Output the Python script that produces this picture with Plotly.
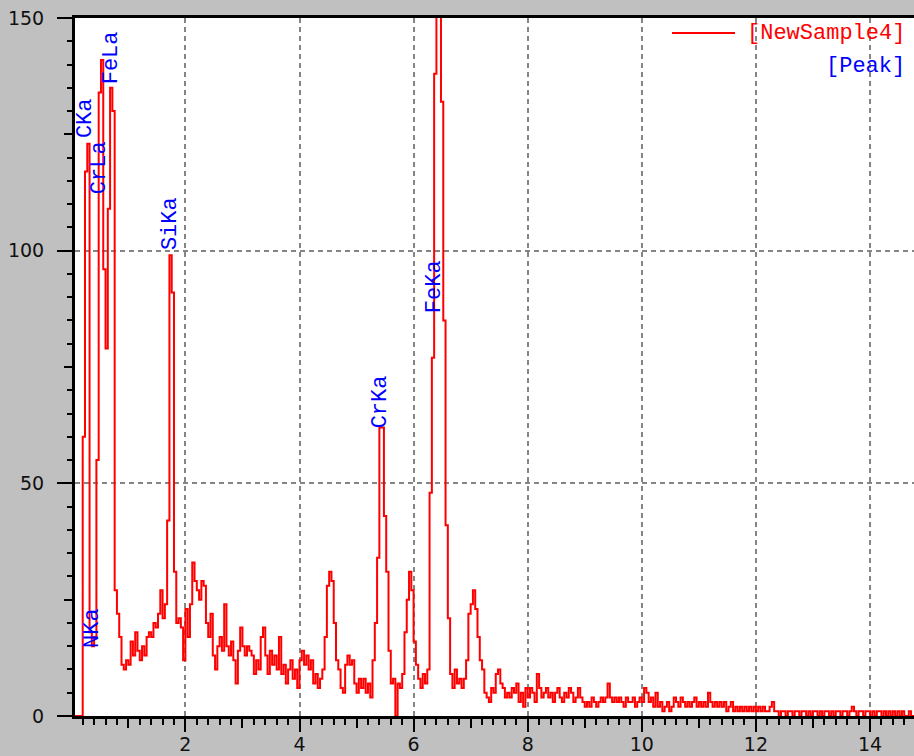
import plotly.graph_objects as go

# ---------------- data ----------------
channel_width_keV = 0.04          # EDS channel width (calibration)
counts = [
    0, 0, 0, 0, 0, 60, 117, 123, 18, 15,            # 0.00 - 0.36
    17, 55, 134, 141, 96, 79, 109, 135, 130, 27,    # 0.40 - 0.76
    22, 17, 11, 10, 12, 11, 16, 13, 18, 14,         # 0.80 - 1.16
    12, 15, 13, 17, 18, 17, 20, 19, 22, 27,         # 1.20 - 1.56
    21, 24, 42, 99, 91, 31, 20, 21, 19, 12,         # 1.60 - 1.96
    23, 17, 24, 33, 29, 27, 25, 29, 28, 20,         # 2.00 - 2.36
    17, 22, 13, 10, 15, 17, 14, 24, 15, 13,         # 2.40 - 2.76
    16, 12, 7, 14, 19, 15, 13, 15, 14, 13,          # 2.80 - 3.16
    9, 12, 10, 17, 19, 13, 9, 14, 11, 13,           # 3.20 - 3.56
    10, 17, 9, 11, 7, 10, 12, 8, 10, 6,             # 3.60 - 3.96
    12, 14, 11, 13, 10, 12, 7, 9, 6, 8,             # 4.00 - 4.36
    10, 17, 28, 31, 29, 20, 12, 10, 6, 5,           # 4.40 - 4.76
    11, 13, 11, 12, 7, 5, 8, 6, 8, 5,               # 4.80 - 5.16
    7, 4, 12, 20, 34, 62, 62, 43, 31, 14,           # 5.20 - 5.56
    7, 8, 0, 7, 6, 9, 18, 25, 31, 27,               # 5.60 - 5.96
    16, 11, 8, 6, 9, 7, 10, 48, 77, 138,            # 6.00 - 6.36
    155, 155, 132, 85, 41, 21, 9, 6, 10, 7,         # 6.40 - 6.76
    8, 6, 8, 12, 22, 24, 27, 23, 17, 12,            # 6.80 - 7.16
    10, 5, 4, 3, 6, 5, 9, 10, 7, 6,                 # 7.20 - 7.56
    4, 5, 4, 6, 5, 7, 3, 5, 2, 6,                   # 7.60 - 7.96
    4, 6, 5, 3, 9, 6, 4, 5, 6, 4,                   # 8.00 - 8.36
    5, 3, 5, 6, 4, 3, 5, 4, 6, 5,                   # 8.40 - 8.76
    3, 4, 6, 4, 3, 2, 3, 2, 4, 3,                   # 8.80 - 9.16
    2, 3, 4, 3, 4, 7, 4, 3, 4, 3,                   # 9.20 - 9.56
    4, 3, 2, 4, 3, 3, 4, 2, 3, 4,                   # 9.60 - 9.96
    3, 6, 5, 3, 4, 2, 5, 2, 3, 1,                   # 10.00 - 10.36
    2, 3, 1, 2, 4, 3, 2, 4, 3, 2,                   # 10.40 - 10.76
    3, 2, 3, 4, 2, 3, 2, 3, 2, 5,                   # 10.80 - 11.16
    3, 2, 3, 2, 3, 2, 3, 1, 2, 3,                   # 11.20 - 11.56
    1, 2, 1, 2, 1, 2, 1, 2, 1, 2,                   # 11.60 - 11.96
    1, 2, 1, 2, 1, 1, 2, 3, 1, 1,                   # 12.00 - 12.36
    0, 1, 1, 0, 1, 1, 0, 1, 1, 0,                   # 12.40 - 12.76
    1, 1, 0, 1, 0, 1, 1, 0, 1, 0,                   # 12.80 - 13.16
    1, 1, 0, 1, 0, 1, 1, 0, 1, 1,                   # 13.20 - 13.56
    0, 1, 2, 1, 0, 1, 1, 0, 1, 1,                   # 13.60 - 13.96
    0, 1, 0, 1, 1, 0, 1, 0, 1, 0,                   # 14.00 - 14.36
    1, 0, 1, 0, 1, 0, 0, 1, 0, 0, 0,                # 14.40 - 14.80
]
energy_keV = [round(i * channel_width_keV, 4) for i in range(len(counts))]

peak_labels = ["NKa", "CKa", "CrLa", "FeLa", "SiKa", "CrKa", "FeKa"]
peak_keV = [0.38, 0.26, 0.50, 0.71, 1.73, 5.42, 6.38]
peak_label_counts = [14.4, 124, 112, 135.6, 99.8, 61.6, 86.3]

x_major_ticks = [2, 4, 6, 8, 10, 12, 14]
x_mid_ticks = [1, 3, 5, 7, 9, 11, 13]
y_major_ticks = [0, 50, 100, 150]
y_mid_ticks = [25, 75, 125]

series_name = "[NewSample4]"
peak_legend = "[Peak]"

# ---------------- figure ----------------
L, R, T, B = 75, 0, 18, 40
W, H = 914, 756
px_per_keV = 57.05
x_zero_px = 71.3
x_range = [(L - x_zero_px) / px_per_keV, (W - R - x_zero_px) / px_per_keV]
y_range = [0, 150]

mono = "Liberation Mono"
red = "#ff0000"
blue = "#0000ff"

fig = go.Figure()
fig.add_trace(go.Scatter(
    x=energy_keV, y=counts, mode="lines", line=dict(color=red, width=2, shape="hv"),
    name=series_name, showlegend=False, hoverinfo="x+y"))
# helper traces so the overlaid tick axes are rendered
for xa, ya in (("x2", "y"), ("x3", "y"), ("x", "y2")):
    fig.add_trace(go.Scatter(x=energy_keV[:1], y=counts[:1], xaxis=xa, yaxis=ya,
                             mode="lines", opacity=0, showlegend=False,
                             hoverinfo="skip"))

tickfont = dict(family="DejaVu Sans", size=19, color="#111111")
grid = dict(showgrid=True, gridcolor="#858585", griddash="5px,4px", gridwidth=1.5)
tick_only = dict(overlaying="x", anchor="y", side="bottom", ticks="outside",
                 tickwidth=2, tickcolor="black", showticklabels=False,
                 showgrid=False, showline=False, zeroline=False, range=x_range)

fig.update_layout(
    width=W, height=H,
    margin=dict(l=L, r=R, t=T, b=B, pad=0),
    paper_bgcolor="#c0c0c0", plot_bgcolor="#ffffff",
    showlegend=False,
    xaxis=dict(range=x_range, tickvals=x_major_ticks, ticks="outside", ticklen=9,
               tickwidth=2, tickcolor="black", showline=True, linewidth=3,
               linecolor="black", mirror=True, zeroline=False, tickfont=tickfont,
               ticklabelstandoff=0, automargin=False,
               minor=dict(dtick=0.2, tick0=0, ticks="outside", ticklen=6, tickwidth=2,
                          tickcolor="black", showgrid=False), **grid),
    xaxis2=dict(tickvals=x_mid_ticks, ticklen=11, **tick_only),
    xaxis3=dict(tickvals=x_major_ticks, ticklen=15, **tick_only),
    yaxis=dict(range=y_range, tickvals=y_major_ticks, ticks="outside", ticklen=15,
               tickwidth=2, tickcolor="black", showline=True, linewidth=3,
               linecolor="black", zeroline=False, tickfont=tickfont,
               ticklabelstandoff=9, automargin=False,
               minor=dict(dtick=5, tick0=0, ticks="outside", ticklen=5, tickwidth=2,
                          tickcolor="black", showgrid=False), **grid),
    yaxis2=dict(range=y_range, overlaying="y", anchor="x", side="left",
                tickvals=y_mid_ticks, ticks="outside", ticklen=10, tickwidth=2,
                tickcolor="black", showticklabels=False, showgrid=False,
                showline=False, zeroline=False),
)

# peak labels (rotated, reading upward)
for lab, ex, cy in zip(peak_labels, peak_keV, peak_label_counts):
    fig.add_annotation(x=ex, y=cy, xref="x", yref="y", text=lab, textangle=-90,
                       showarrow=False, xanchor="center", yanchor="bottom",
                       font=dict(family=mono, size=22, color=blue), borderpad=0)

# legend drawn in the top-right corner of the plot
pw, ph = W - L - R, H - T - B
def px_x(p):
    return (p - L) / pw
def px_y(p):
    return (H - B - p) / ph

fig.add_shape(type="line", xref="paper", yref="paper",
              x0=px_x(672), x1=px_x(735), y0=px_y(33), y1=px_y(33),
              line=dict(color=red, width=2))
fig.add_annotation(xref="paper", yref="paper", x=px_x(906), y=px_y(34),
                   text=series_name, showarrow=False, xanchor="right", yanchor="middle",
                   font=dict(family=mono, size=22, color=red), borderpad=0)
fig.add_annotation(xref="paper", yref="paper", x=px_x(906), y=px_y(67),
                   text=peak_legend, showarrow=False, xanchor="right", yanchor="middle",
                   font=dict(family=mono, size=22, color=blue), borderpad=0)

fig.write_html(
    "out.html",
    config={"displayModeBar": False},
    post_script="document.body.style.margin='0';document.body.style.background='#c0c0c0';",
)
